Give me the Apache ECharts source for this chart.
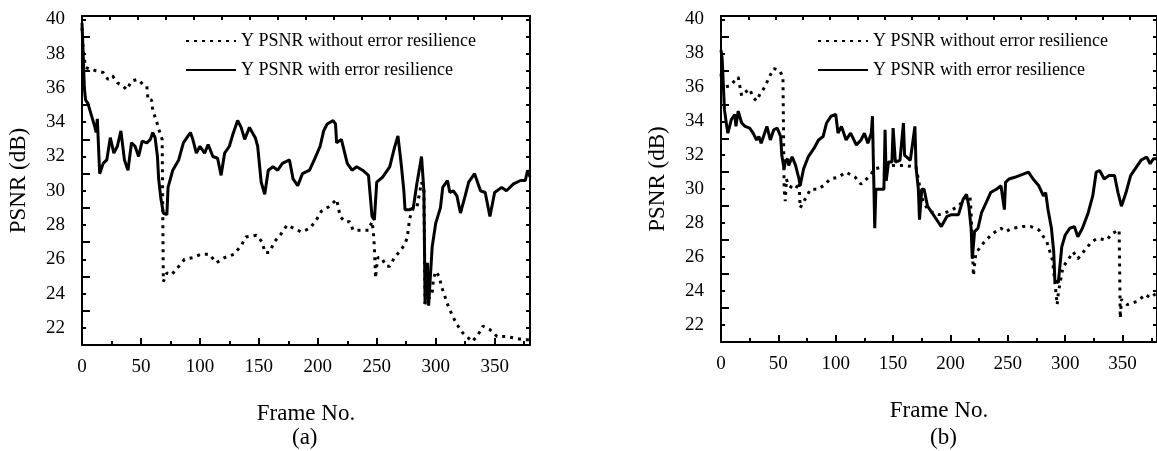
<!DOCTYPE html>
<html>
<head>
<meta charset="UTF-8">
<title>PSNR vs Frame No.</title>
<script src="https://cdn.jsdelivr.net/npm/echarts@6/dist/echarts.min.js"></script>
<style>
  html, body { margin: 0; padding: 0; background: #fff; }
  #chart { width: 1157px; height: 451px; }
</style>
</head>
<body>
<div id="chart"></div>
<script>
// ---- data ----
var nameWithout = 'Y PSNR without error resilience';
var nameWith = 'Y PSNR with error resilience';

// (a)
var aWithFrames = [0,1,2,3,5,8,11,12,13,14,15,18,21,24,27,30,33,36,39,42,45,48,51,55,58,60,62,64,65,67,69,72,73,77,82,86,89,92,94,97,100,104,107,111,115,118,121,125,128,132,135,138,142,147,149,152,155,158,162,166,170,176,179,183,187,193,197,202,205,208,213,215,216,220,225,229,233,238,243,246,248,250,255,261,265,268,271,273,274,278,281,284,288,290,291,293,294,297,300,304,306,310,312,315,318,321,325,328,333,338,342,346,350,356,360,366,372,376,378,380];
var aWithPsnr = [39.8,38.0,36.0,35.3,35.1,34.4,33.7,33.4,34.2,34.3,31.0,31.6,31.8,33.1,32.2,32.6,33.5,31.8,31.2,32.8,32.6,32.0,32.9,32.8,33.0,33.4,33.1,32.0,30.7,29.5,28.7,28.6,30.2,31.2,31.8,32.8,33.1,33.4,33.0,32.2,32.6,32.2,32.7,32.0,31.9,30.9,32.2,32.6,33.3,34.1,33.7,33.0,33.7,33.1,32.6,30.5,29.8,31.2,31.4,31.2,31.6,31.8,30.7,30.3,31.0,31.2,31.8,32.6,33.5,33.9,34.1,33.9,32.8,33.0,31.6,31.2,31.4,31.2,30.9,28.5,28.3,30.5,30.8,31.4,32.5,33.2,31.4,30.0,28.9,28.9,29.0,30.4,32.0,30.0,23.4,25.8,23.3,26.7,28.1,29.0,30.2,30.6,29.9,30.0,29.7,28.7,29.7,30.5,31.0,30.0,29.9,28.5,29.9,30.2,30.0,30.4,30.6,30.6,31.2,30.8];

var aWithoutFrames = [0,1,3,7,12,18,22,26,30,35,38,42,47,52,55,56,59,60,63,66,68,69,72,76,81,87,94,101,108,114,121,129,135,139,148,153,155,159,163,169,174,180,186,193,198,203,210,216,219,223,227,230,236,243,246,247,248,249,250,251,254,258,261,265,270,274,276,277,278,281,284,288,290,291,297,298,300,303,305,308,311,315,318,323,331,336,340,346,352,360,367,376,380];
var aWithoutPsnr = [39.5,38.2,37.2,37.1,37.0,36.9,36.5,36.7,36.3,36.1,35.9,36.4,36.5,36.2,36.1,35.3,35.3,34.7,34.1,33.4,33.0,24.7,25.2,25.1,25.5,26.0,26.1,26.3,26.3,25.8,26.1,26.3,26.8,27.3,27.4,27.0,26.4,26.4,27.0,27.5,28.0,27.8,27.6,27.8,28.2,28.8,29.1,29.5,28.5,28.2,28.2,27.7,27.7,27.7,28.2,27.7,26.7,24.9,25.6,26.1,26.1,25.6,25.6,26.1,26.5,26.9,27.3,27.9,28.4,29.0,29.0,30.5,30.0,23.4,24.0,24.8,25.3,25.0,24.4,23.8,23.2,22.6,22.2,21.7,21.2,21.6,22.1,21.9,21.5,21.5,21.4,21.3,21.3];

// (b)
var bWithFrames = [0,1,2,3,5,6,9,12,13,15,18,21,25,28,31,33,35,38,40,43,46,49,52,53,55,56,58,59,62,65,68,69,72,76,81,85,89,92,96,100,102,105,109,113,118,122,125,128,131,132,133,134,135,139,142,143,144,146,149,150,152,156,159,160,165,169,170,172,173,175,177,180,184,188,192,197,201,207,211,214,216,218,219,221,224,227,231,235,240,244,247,248,251,256,260,264,268,272,277,281,283,285,288,290,291,294,295,297,300,304,308,311,315,320,324,327,330,334,338,343,346,349,353,357,362,366,371,374,377,380];
var bWithPsnr = [38.2,37.7,36.2,34.7,33.7,33.3,34.1,34.4,33.7,34.6,33.9,33.7,33.6,33.3,32.9,33.1,32.7,33.3,33.7,32.9,33.5,33.6,33.1,32.0,31.2,31.6,31.8,31.4,31.9,31.4,30.6,30.2,31.2,31.9,32.4,32.9,33.1,33.9,34.3,34.4,33.3,33.7,32.9,33.3,32.6,32.9,33.3,32.7,33.3,34.3,31.0,27.7,30.0,30.0,30.0,33.5,30.5,31.6,31.6,33.6,31.6,31.7,33.9,32.0,31.7,33.7,31.3,30.0,28.2,30.0,30.0,29.0,28.6,28.2,27.8,28.4,28.5,28.5,29.4,29.7,29.0,27.7,25.9,27.5,27.7,28.6,29.2,29.8,30.0,30.2,28.8,30.4,30.6,30.7,30.8,30.9,31.0,30.6,30.2,29.6,29.8,28.8,27.7,26.3,24.6,24.5,25.2,26.6,27.3,27.7,27.8,27.2,27.7,28.6,29.6,31.0,31.1,30.6,30.8,30.8,29.8,29.0,29.8,30.8,31.3,31.7,31.9,31.5,31.8,31.8];

var bWithoutFrames = [0,1,3,8,12,15,18,21,25,28,31,34,38,42,46,51,54,55,56,57,59,65,68,69,74,78,85,91,95,102,109,117,122,130,134,140,150,160,170,175,180,185,190,199,207,213,217,218,220,222,227,231,237,244,248,254,263,270,277,284,289,291,293,294,298,302,307,311,317,323,328,336,341,347,348,349,354,363,370,374,380];
var bWithoutPsnr = [36.8,36.2,36.0,36.1,36.4,36.6,35.5,35.7,35.9,35.4,35.2,35.6,36.0,36.6,37.1,37.0,36.6,30.0,29.3,30.6,30.2,30.0,30.4,28.9,29.5,30.0,30.0,30.3,30.6,30.7,31.0,30.7,30.3,30.8,31.2,31.3,31.4,31.4,31.3,29.5,28.8,28.6,28.5,28.7,29.0,29.5,29.6,28.6,24.9,26.2,26.7,27.0,27.4,27.7,27.5,27.7,27.8,27.8,27.6,26.9,25.8,24.5,23.2,23.9,25.4,25.8,26.3,25.9,26.4,26.9,27.1,27.0,27.4,27.6,22.4,23.5,23.2,23.4,23.8,23.6,23.9];

var frameMax = 380;
var psnrMin = 21;
var psnrMax = 40.2;

function pairs(xs, ys) {
  var out = [];
  for (var i = 0; i < xs.length; i++) out.push([xs[i], ys[i]]);
  return out;
}

var serif = 'Liberation Serif';
var black = '#000';

function xAxesFor(g) {
  return [
    { // bottom: labels + major ticks
      type: 'value', gridIndex: g, position: 'bottom', min: 0, max: frameMax, interval: 50,
      axisLine: { onZero: false, lineStyle: { color: black, width: 2 } },
      axisTick: { inside: true, length: 7, lineStyle: { color: black, width: 2 } },
      axisLabel: { color: black, fontFamily: serif, fontSize: 19, margin: 13, showMaxLabel: false,
        formatter: function (v) { return v % 50 === 0 ? v : ''; } },
      splitLine: { show: false },
      name: 'Frame No.', nameLocation: 'middle', nameGap: 57,
      nameTextStyle: { color: black, fontFamily: serif, fontSize: 23 }
    },
    { // bottom: minor ticks
      type: 'value', gridIndex: g, position: 'bottom', min: 0, max: frameMax, interval: 25,
      axisLine: { show: false, onZero: false },
      axisTick: { inside: true, length: 4, lineStyle: { color: black, width: 2 } },
      axisLabel: { show: false }, splitLine: { show: false }
    },
    { // top frame
      type: 'value', gridIndex: g, position: 'top', min: 0, max: 400, interval: 25,
      axisLine: { onZero: false, lineStyle: { color: black, width: 2 } },
      axisTick: { inside: true, length: 4, lineStyle: { color: black, width: 2 } },
      axisLabel: { show: false }, splitLine: { show: false }
    }
  ];
}

function yAxesFor(g) {
  return [
    { // left: labels + minor ticks
      type: 'value', gridIndex: g, position: 'left', min: psnrMin, max: psnrMax, interval: 1,
      axisLine: { onZero: false, lineStyle: { color: black, width: 2 } },
      axisTick: { inside: true, length: 4, lineStyle: { color: black, width: 2 } },
      axisLabel: { color: black, fontFamily: serif, fontSize: 19, margin: 17,
        formatter: function (v) { return (Number.isInteger(v) && v % 2 === 0) ? v : ''; } },
      splitLine: { show: false },
      name: 'PSNR (dB)', nameLocation: 'middle', nameGap: 52, nameRotate: 90,
      nameTextStyle: { color: black, fontFamily: serif, fontSize: 23 }
    },
    { // left: major ticks at even dB (scale shifted by 22 so ticks start on a multiple of 2)
      type: 'value', gridIndex: g, position: 'left', min: psnrMin - 22, max: psnrMax - 22, interval: 2,
      axisLine: { show: false, onZero: false },
      axisTick: { inside: true, length: 8, lineStyle: { color: black, width: 2 } },
      axisLabel: { show: false }, splitLine: { show: false }
    },
    { // right frame
      type: 'value', gridIndex: g, position: 'right', min: psnrMin, max: psnrMax, interval: 1,
      axisLine: { onZero: false, lineStyle: { color: black, width: 2 } },
      axisTick: { inside: true, length: 4, lineStyle: { color: black, width: 2 } },
      axisLabel: { show: false }, splitLine: { show: false }
    }
  ];
}

function dotted(g, data) {
  return {
    name: nameWithout, type: 'line', xAxisIndex: g * 3, yAxisIndex: g * 3,
    data: data, showSymbol: false, symbol: 'none', z: 3,
    itemStyle: { color: black },
    lineStyle: { color: black, width: 3, type: [3, 5] }
  };
}
function solid(g, data) {
  return {
    name: nameWith, type: 'line', xAxisIndex: g * 3, yAxisIndex: g * 3,
    data: data, showSymbol: false, symbol: 'none', z: 2,
    itemStyle: { color: black },
    lineStyle: { color: black, width: 3 }
  };
}

function legendAt(left) {
  return {
    orient: 'vertical', left: left, top: 32, padding: 0, itemGap: 11,
    itemWidth: 50, itemHeight: 14, selectedMode: false,
    itemStyle: { opacity: 0 },
    data: [nameWithout, nameWith],
    textStyle: { color: black, fontFamily: serif, fontSize: 18, lineHeight: 18 }
  };
}

var chart = echarts.init(document.getElementById('chart'));
chart.setOption({
  animation: false,
  backgroundColor: '#fff',
  grid: [
    { left: 82, top: 16, width: 448, height: 329 },
    { left: 721, top: 16, width: 442, height: 326 }
  ],
  xAxis: xAxesFor(0).concat(xAxesFor(1)),
  yAxis: yAxesFor(0).concat(yAxesFor(1)),
  legend: [legendAt(185), legendAt(817)],
  graphic: [
    { type: 'text', left: 292, top: 426, style: { text: '(a)', fill: black, font: '23px "Liberation Serif"' } },
    { type: 'text', left: 930, top: 426, style: { text: '(b)', fill: black, font: '23px "Liberation Serif"' } }
  ],
  series: [
    dotted(0, pairs(aWithoutFrames, aWithoutPsnr)),
    solid(0, pairs(aWithFrames, aWithPsnr)),
    dotted(1, pairs(bWithoutFrames, bWithoutPsnr)),
    solid(1, pairs(bWithFrames, bWithPsnr))
  ]
});
</script>
</body>
</html>
